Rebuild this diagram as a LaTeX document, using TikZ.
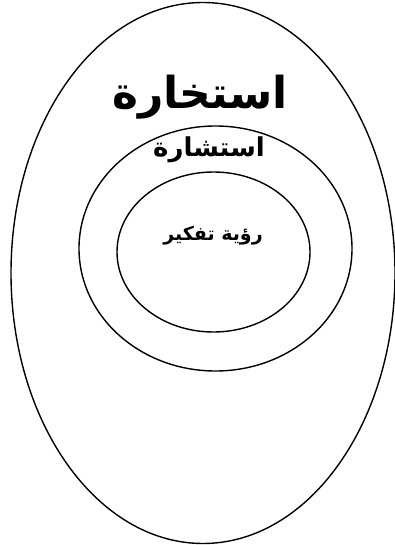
\documentclass[tikz,border=0pt]{standalone}
\usepackage{fontspec}
\newfontfamily\arabicfont[Script=Arabic]{DejaVu Sans}
\TeXXeTstate=1
\usepackage{tikz}
\usetikzlibrary{positioning, shapes.geometric}

\begin{document}
\begin{tikzpicture}[
  x=1pt, y=-1pt,
  ring/.style={draw, ellipse, inner sep=0pt, line width=1.4pt},
  word/.style={inner sep=0pt},
]
  \useasboundingbox (0,0) rectangle (395,545);

  \node[ring, minimum width=384pt, minimum height=541pt] (outer)  at (203,273) {};
  \node[ring, minimum width=273pt, minimum height=245pt] (middle) at (215.5,248.5) {};
  \node[ring, minimum width=193pt, minimum height=160pt] (inner)  at (213.5,252) {};

  \node[word, font=\arabicfont\bfseries\fontsize{44}{44}\selectfont]
    (istikhara) at (200,97) {\beginR استخارة\endR};
  \node[word, font=\arabicfont\bfseries\fontsize{26}{26}\selectfont]
    (istishara) at (209,150) {\beginR استشارة\endR};
  \node[word, font=\arabicfont\bfseries\fontsize{19}{19}\selectfont]
    (ruya) at (213,236) {\beginR رؤية تفكير\endR};
\end{tikzpicture}
\end{document}
